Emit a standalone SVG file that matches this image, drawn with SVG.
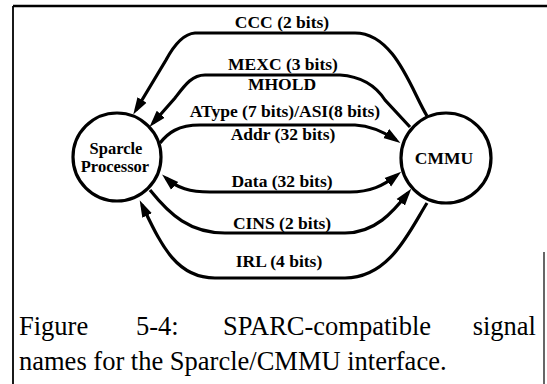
<svg xmlns="http://www.w3.org/2000/svg" width="547" height="384" viewBox="0 0 547 384">
<style>
.lbl{font-family:"Liberation Serif","Times New Roman",serif;font-weight:bold;font-size:17.5px;fill:#000;text-anchor:middle}
.nlbl{font-family:"Liberation Serif","Times New Roman",serif;font-weight:bold;font-size:16.5px;fill:#000;text-anchor:middle}
.cap{font-family:"Liberation Serif","Times New Roman",serif;font-size:26.5px;fill:#000}
.node{fill:#fff;stroke:#000;stroke-width:3.2}
.wire{fill:none;stroke:#000;stroke-width:3.2}
</style>
<defs>
<marker id="ah" markerUnits="userSpaceOnUse" markerWidth="17" markerHeight="12" refX="11" refY="5" orient="auto-start-reverse" viewBox="0 0 16 10">
<path d="M0,0 L16,5 L0,10 z" fill="#000"/>
</marker>
</defs>
<rect width="547" height="384" fill="#fff"/>
<g id="border" stroke="#000" fill="none">
<line x1="13" y1="6" x2="547" y2="6" stroke-width="2.5"/>
<line x1="13" y1="6" x2="13" y2="384" stroke-width="1.8"/>
<line x1="544" y1="252" x2="544" y2="384" stroke-width="1.2"/>
</g>
<g id="connectors">
<path class="wire" d="M427,116 C412,92 395,33 355,33 L195,33 Q180,34 166,60 L136,110" marker-end="url(#ah)"/>
<path class="wire" d="M410,127 L385,100 Q370,77 340,75 L205,75 C192,75 185,85 175,98 L153,123" marker-end="url(#ah)"/>
<path class="wire" d="M160,143 C168,133 178,125 200,125 L355,125 Q375,126 396,140" marker-end="url(#ah)"/>
<path class="wire" d="M166,178 C177,188 190,192 210,192 L350,192 C370,192 383,186 397,175" marker-start="url(#ah)" marker-end="url(#ah)"/>
<path class="wire" d="M150,190 C170,215 190,233 225,233 L345,233 C375,233 393,212 408,193" marker-end="url(#ah)"/>
<path class="wire" d="M427,203 C410,230 390,278 345,278 L215,278 C175,278 160,242 142,205" marker-end="url(#ah)"/>
</g>
<g id="labels">
<text class="lbl" x="282" y="28">CCC (2 bits)</text>
<text class="lbl" x="283" y="70">MEXC (3 bits)</text>
<text class="lbl" x="282" y="90">MHOLD</text>
<text class="lbl" x="285" y="117">AType (7 bits)/ASI(8 bits)</text>
<text class="lbl" x="283" y="140">Addr (32 bits)</text>
<text class="lbl" x="282" y="187">Data (32 bits)</text>
<text class="lbl" x="282" y="229">CINS (2 bits)</text>
<text class="lbl" x="279" y="267">IRL (4 bits)</text>
</g>
<g id="sparcle">
<circle class="node" cx="117" cy="157" r="44"/>
<text class="nlbl" x="116" y="154">Sparcle</text>
<text class="nlbl" x="115" y="172">Processor</text>
</g>
<g id="cmmu">
<circle class="node" cx="446" cy="158" r="45"/>
<text class="lbl" x="444" y="164">CMMU</text>
</g>
<g id="caption">
<text class="cap" y="335"><tspan x="19">Figure</tspan><tspan x="136">5-4:</tspan><tspan x="223">SPARC-compatible</tspan><tspan x="536" text-anchor="end">signal</tspan></text>
<text class="cap" x="19" y="370">names for the Sparcle/CMMU interface.</text>
</g>
</svg>
